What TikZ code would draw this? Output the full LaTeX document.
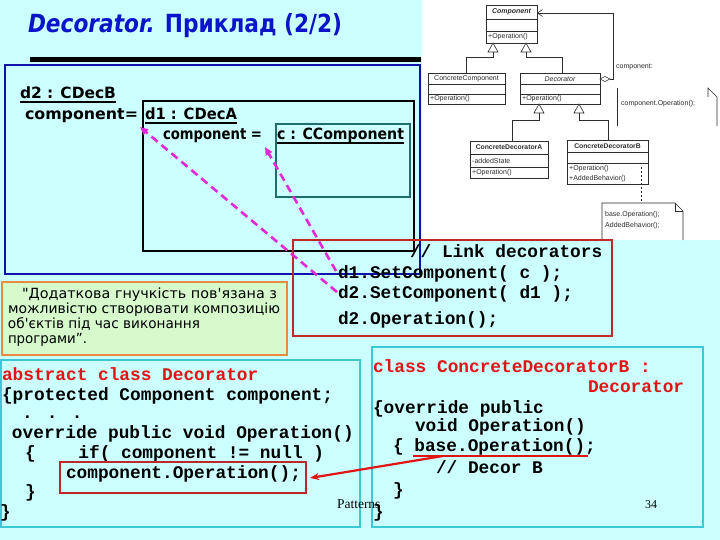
\documentclass[tikz,border=0pt]{standalone}
\usepackage{fontspec}
\usepackage{graphicx}
\setmainfont{DejaVu Sans}
\newfontfamily\vf{DejaVu Sans}
\newfontfamily\monof{Liberation Mono}
\newfontfamily\arialf{Liberation Sans}
\newfontfamily\serff{Liberation Serif}
\usetikzlibrary{arrows.meta}
\definecolor{bgc}{RGB}{204,255,255}
\definecolor{ttl}{RGB}{10,20,200}
\definecolor{bboxc}{RGB}{16,16,170}
\definecolor{tealc}{RGB}{30,110,110}
\definecolor{redboxc}{RGB}{190,40,40}
\definecolor{pinkc}{RGB}{225,40,215}
\definecolor{codered}{RGB}{225,20,20}
\definecolor{cyanboxc}{RGB}{60,200,215}
\definecolor{orangec}{RGB}{230,140,60}
\definecolor{qfill}{RGB}{214,250,204}
\definecolor{umlc}{RGB}{45,45,45}
\newcommand{\fitw}[2]{\resizebox{#1}{\height}{#2}}
\tikzset{
  txt/.style={inner sep=0pt, outer sep=0pt, anchor=base west},
  code/.style={txt, font=\monof\bfseries\fontsize{17.8}{20}\selectfont},
  rcode/.style={code, text=codered},
  head/.style={txt, font=\vf\bfseries\fontsize{15.5}{18}\selectfont},
  quote/.style={txt, font=\vf\fontsize{14}{15}\selectfont},
  umll/.style={draw=umlc, line width=0.6pt},
  umlt/.style={inner sep=0pt, font=\arialf\fontsize{7}{8}\selectfont, text=umlc},
  uline/.style={line width=1.4pt},
  pinkarrow/.style={pinkc, line width=2.6pt, dash pattern=on 8pt off 5pt, -{Triangle[length=8pt,width=7pt]}},
}
\begin{document}
\begin{tikzpicture}[x=1pt,y=-1pt]
\useasboundingbox (0,0) rectangle (720,540);
\fill[bgc] (0,0) rectangle (720,540);
\fill[white] (422,0) rectangle (720,240);

% ---------- UML picture ----------
\draw[umll] (486,5) rectangle (537,43);
\draw[umll] (486,19) -- (537,19) (486,31) -- (537,31);
\node[umlt, font=\arialf\bfseries\itshape\fontsize{7}{8}\selectfont] (ucomp) at (511.5,12) {Component};
\node[umlt, anchor=west] (ucompop) at (488,37) {+Operation()};
\draw[umll, fill=white] (493,43) -- (488,52) -- (498,52) -- cycle;
\draw[umll, fill=white] (526,43) -- (521,52) -- (531,52) -- cycle;
\draw[umll] (493,52) -- (493,57) -- (466,57) -- (466,73);
\draw[umll] (526,52) -- (526,57) -- (562,57) -- (562,73);

\draw[umll] (428,73) rectangle (505,104);
\draw[umll] (428,84) -- (505,84) (428,94) -- (505,94);
\node[umlt] (ucc) at (466.5,79) {ConcreteComponent};
\node[umlt, anchor=west] (uccop) at (430,99) {+Operation()};

\draw[umll] (520,73) rectangle (600,104);
\draw[umll] (520,84) -- (600,84) (520,94) -- (600,94);
\node[umlt, font=\arialf\itshape\fontsize{7}{8}\selectfont] (udec) at (560,79) {Decorator};
\node[umlt, anchor=west] (udecop) at (522,99) {+Operation()};

\draw[umll, fill=white] (600,79) -- (605,76.5) -- (610,79) -- (605,81.5) -- cycle;
\draw[umll, -{Straight Barb[length=5pt,width=7pt]}] (610,79) -- (613,79) -- (613,13) -- (537,13);
\node[umlt, anchor=west] (ucomplbl) at (616,67) {component:};

\draw[umll] (617,88) -- (617,126);
\draw[umll] (708,97) -- (708,88) -- (717,97) -- (717,126);
\node[umlt, anchor=west] (unote1) at (621,104) {component.Operation();};

\draw[umll, fill=white] (539,104) -- (534,113) -- (544,113) -- cycle;
\draw[umll, fill=white] (579,104) -- (574,113) -- (584,113) -- cycle;
\draw[umll] (539,113) -- (539,120) -- (512,120) -- (512,141);
\draw[umll] (579,113) -- (579,120) -- (608,120) -- (608,140);

\draw[umll] (470,141) rectangle (548,178);
\draw[umll] (470,154) -- (548,154) (470,167) -- (548,167);
\node[umlt, font=\arialf\bfseries\fontsize{6.8}{8}\selectfont] (uda) at (509,147.5) {ConcreteDecoratorA};
\node[umlt, anchor=west] (udaattr) at (472,160.5) {-addedState};
\node[umlt, anchor=west] (udaop) at (472,172.5) {+Operation()};

\draw[umll] (567,140) rectangle (648,184);
\draw[umll] (567,152) -- (648,152) (567,163) -- (648,163);
\node[umlt, font=\arialf\bfseries\fontsize{6.8}{8}\selectfont] (udb) at (607.5,146) {ConcreteDecoratorB};
\node[umlt, anchor=west] (udbop) at (569,169) {+Operation()};
\node[umlt, anchor=west] (udbab) at (569,179) {+AddedBehavior()};

\draw[umll, dash pattern=on 2pt off 2pt] (641,167) -- (641,203);
\draw[umll] (602,240) -- (602,203) -- (675,203) -- (683,211) -- (683,240);
\draw[umll] (675,203) -- (675,211) -- (683,211);
\node[umlt, anchor=west] (unote2a) at (605,215) {base.Operation();};
\node[umlt, anchor=west] (unote2b) at (605,226) {AddedBehavior();};

% ---------- title ----------
\node[txt, text=ttl, font=\vf\bfseries\fontsize{25}{28}\selectfont] (title) at (28,33)
  {\fitw{314pt}{\itshape Decorator.\upshape{} Приклад (2/2)}};
\fill[black] (30,57.5) rectangle (421,62.5);

% ---------- object boxes ----------
\draw[bboxc, line width=2pt] (5,65) rectangle (420,274);
\draw[black, line width=2pt] (143,101) rectangle (414,251);
\draw[tealc, line width=2pt] (276,124) rectangle (410,197);

\node[head] (d2) at (20,99) {\fitw{96pt}{d2 : CDecB}};
\draw[uline] ([yshift=-3pt]d2.base west) -- ([yshift=-3pt]d2.base east);
\node[head] (comp1) at (25,120) {\fitw{113pt}{component=}};
\node[head] (d1) at (145,120) {\fitw{92pt}{d1 : CDecA}};
\draw[uline] ([yshift=-3pt]d1.base west) -- ([yshift=-3pt]d1.base east);
\node[head] (comp2) at (163,140) {\fitw{99pt}{component =}};
\node[head] (cc) at (277,140) {\fitw{127pt}{c : CComponent}};
\draw[uline] ([yshift=-3pt]cc.base west) -- ([yshift=-3pt]cc.base east);

% ---------- link code box ----------
\draw[redboxc, line width=2pt] (293,240) rectangle (612,336);
\node[code] (lk0) at (410,258) {// Link decorators};
\node[code] (lk1) at (338,278) {d1.SetComponent( c );};
\node[code] (lk2) at (338,298) {d2.SetComponent( d1 );};
\node[code] (lk3) at (338,324) {d2.Operation();};

% ---------- quote ----------
\draw[orangec, fill=qfill, line width=2pt] (2,282) rectangle (287,355);
\node[quote] (q1) at (22,298) {\fitw{255pt}{"Додаткова гнучкість пов'язана з}};
\node[quote] (q2) at (8,313) {\fitw{272pt}{можливістю створювати композицію}};
\node[quote] (q3) at (8,328) {\fitw{192pt}{об'єктів під час виконання}};
\node[quote] (q4) at (8,343) {\fitw{79pt}{програми”.}};

% ---------- left code ----------
\draw[cyanboxc, line width=2.5pt] (1,360) rectangle (360,527);
\node[rcode] (a1) at (2,380) {abstract class Decorator};
\node[code] (a2) at (2,400) {\{protected Component component;};
\node[code] (a3) at (22,418) {. . .};
\node[code] (a4) at (12,438) {override public void Operation()};
\node[code] (a5) at (25,458) {\{\ \ \ \ if( component != null )};
\node[code] (a6) at (66,478) {component.Operation();};
\draw[redboxc, line width=2pt] (60,462) rectangle (306,493);
\coordinate (a6box) at (310,478);
\node[code] (a7) at (25,497) {\}};
\node[code] (a8) at (0,517) {\}};

% ---------- right code ----------
\draw[cyanboxc, line width=2.5pt] (372,347) rectangle (703,527);
\node[rcode] (b1) at (373,372) {class ConcreteDecoratorB :};
\node[rcode] (b2) at (588,392) {Decorator};
\node[code] (b3) at (373,413) {\{override public};
\node[code] (b4) at (415,431) {void Operation()};
\node[code] (b5) at (393,451) {\{ base.Operation();};
\draw[codered, line width=2pt] (413,456) -- (588,456);
\coordinate (bstart) at (443,456);
\node[code] (b6) at (436,473) {// Decor B};
\node[code] (b7) at (393,495) {\}};
\node[code] (b8) at (373,517) {\}};

\node[txt, font=\serff\fontsize{13.5}{15}\selectfont] (pat) at (337,508) {Patterns};
\node[txt, font=\serff\fontsize{12}{14}\selectfont] (pnum) at (645,508) {34};

% ---------- arrows ----------
\draw[codered, line width=2.2pt, -{Stealth[length=9pt,width=7pt]}] (bstart) -- (a6box);
\coordinate (s1) at (337,292);
\coordinate (e1) at (140,127);
\coordinate (s2) at (336,271);
\coordinate (e2) at (265,147);
\draw[pinkarrow] (s1) -- (e1);
\draw[pinkarrow] (s2) -- (e2);
\end{tikzpicture}
\end{document}
